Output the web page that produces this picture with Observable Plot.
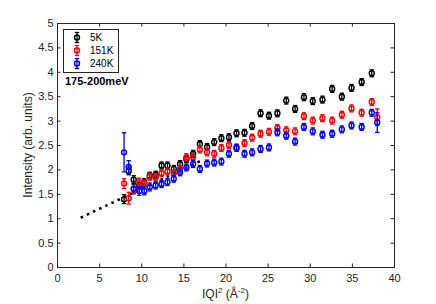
<!DOCTYPE html>
<html><head><meta charset="utf-8">
<script src="https://cdn.jsdelivr.net/npm/d3@7"></script>
<script src="https://cdn.jsdelivr.net/npm/@observablehq/plot@0.6"></script>
<style>
body{margin:0;background:#fff;}
#wrap{position:relative;width:436px;height:304px;font-family:"Liberation Sans",Arial,Helvetica,sans-serif;color:#262626;}
.ov{position:absolute;white-space:nowrap;}
#xlab{left:0;width:451px;text-align:center;top:287px;font-size:12px;line-height:14px;}
#xlab sup{font-size:8px;vertical-align:5px;line-height:0;}
#ylab{left:28px;top:145px;font-size:12px;transform:translate(-50%,-50%) rotate(-90deg);}
#tag{left:65px;top:75px;font-size:11px;font-weight:bold;color:#000;}
#legend{left:63px;top:29px;width:54px;height:42px;border:1px solid #262626;background:#fff;}
#legend .row{position:absolute;left:26px;font-size:10px;line-height:12px;color:#000;}
#legend svg{position:absolute;left:0;top:0;}
</style></head><body><div id="wrap"></div>
<script>
// ---- data ----
const seriesNames = ["5K", "151K", "240K"];
const seriesColors = ["#000000", "#ff0000", "#0000ff"];
const q2 = [7.9, 8.45, 9.05, 9.7, 10.3, 10.95, 11.65, 12.35, 13.05, 13.8, 14.55, 15.3, 16.1, 16.9, 17.75, 18.6, 19.45, 20.35, 21.25, 22.2, 23.1, 24.1, 25.1, 26.1, 27.15, 28.2, 29.25, 30.3, 31.45, 32.6, 33.75, 34.9, 36.1, 37.3, 37.95];
const int5K   = [1.40, 1.98, 1.80, 1.68, 1.75, 1.88, 1.90, 2.09, 2.09, 2.02, 2.12, 2.22, 2.33, 2.53, 2.47, 2.57, 2.65, 2.67, 2.75, 2.76, 2.90, 3.16, 3.11, 3.16, 3.42, 3.25, 3.49, 3.41, 3.44, 3.66, 3.50, 3.68, 3.80, 3.98, null];
const err5K   = [0.09, 0.08, 0.08, 0.07, 0.07, 0.07, 0.07, 0.07, 0.07, 0.07, 0.07, 0.07, 0.07, 0.07, 0.07, 0.07, 0.07, 0.07, 0.07, 0.07, 0.07, 0.07, 0.07, 0.07, 0.07, 0.07, 0.07, 0.07, 0.07, 0.07, 0.07, 0.07, 0.07, 0.07, null];
const int151K = [1.72, 1.42, 1.62, 1.75, 1.72, 1.86, 1.84, 1.93, 1.97, 1.93, 2.02, 2.26, 2.26, 2.42, 2.36, 2.33, 2.45, 2.51, 2.46, 2.55, 2.66, 2.74, 2.78, 2.86, 2.81, 2.79, 3.10, 3.01, 3.06, 3.01, 3.13, 3.26, 3.17, 3.39, 3.08];
const err151K = [0.10, 0.12, 0.08, 0.08, 0.07, 0.07, 0.07, 0.07, 0.07, 0.07, 0.07, 0.07, 0.07, 0.07, 0.07, 0.07, 0.07, 0.07, 0.07, 0.07, 0.07, 0.07, 0.07, 0.07, 0.07, 0.07, 0.07, 0.07, 0.07, 0.07, 0.07, 0.07, 0.07, 0.07, 0.17];
const int240K = [2.36, 2.06, 1.61, 1.57, 1.57, 1.65, 1.68, 1.71, 1.75, 1.82, 1.95, 2.05, 2.12, 2.02, 2.13, 2.15, 2.17, 2.33, 2.45, 2.33, 2.36, 2.43, 2.46, 2.77, 2.70, 2.58, 2.88, 2.79, 2.72, 2.74, 2.83, 2.91, 2.88, 3.17, 2.97];
const err240K = [0.40, 0.13, 0.10, 0.09, 0.08, 0.08, 0.07, 0.07, 0.07, 0.07, 0.07, 0.07, 0.07, 0.07, 0.07, 0.07, 0.07, 0.07, 0.07, 0.07, 0.07, 0.07, 0.07, 0.07, 0.07, 0.07, 0.07, 0.07, 0.07, 0.07, 0.07, 0.07, 0.07, 0.07, 0.20];
const guideX = [2.75, 17.3];
const guideY = [1.02, 2.21];
const xTicks = [0, 5, 10, 15, 20, 25, 30, 35, 40];
const yTicks = [0, 0.5, 1, 1.5, 2, 2.5, 3, 3.5, 4, 4.5, 5];
const tagText = "175-200meV";

// ---- build ----
const values = [int5K, int151K, int240K];
const errors = [err5K, err151K, err240K];
const rows = [];
seriesNames.forEach((s, k) => q2.forEach((x, i) => {
  if (values[k][i] != null) rows.push({series: s, q2: x, I: values[k][i], e: errors[k][i]});
}));
const guide = guideX.map((x, i) => ({x, y: guideY[i]}));

const W = 436, H = 304, mL = 57, mR = 42, mT = 23, mB = 37;
const innerW = W - mL - mR, innerH = H - mT - mB, tk = 3.5;
const cap = {draw(ctx, size) { const w = Math.sqrt(size / Math.PI); ctx.moveTo(-w, 0); ctx.lineTo(w, 0); }};

const marks = [
  Plot.line(guide, {x: "x", y: "y", stroke: "#000", strokeWidth: 2.6, strokeDasharray: "2.6,4.2", strokeLinecap: "butt"})
];
seriesNames.forEach(s => {
  const d = rows.filter(r => r.series === s);
  marks.push(
    Plot.ruleX(d, {x: "q2", y1: r => r.I - r.e, y2: r => r.I + r.e, stroke: "series", strokeWidth: 1.3}),
    Plot.dot(d, {x: "q2", y: r => r.I - r.e, symbol: cap, r: 2.2, stroke: "series", fill: "none", strokeWidth: 1.3}),
    Plot.dot(d, {x: "q2", y: r => r.I + r.e, symbol: cap, r: 2.2, stroke: "series", fill: "none", strokeWidth: 1.3}),
    Plot.dot(d, {x: "q2", y: "I", r: 2.5, stroke: "series", fill: "none", strokeWidth: 1.4})
  );
});
marks.push(
  Plot.tickX(xTicks, {x: d => d, insetTop: innerH - tk, stroke: "#262626"}),
  Plot.tickX(xTicks, {x: d => d, insetBottom: innerH - tk, stroke: "#262626"}),
  Plot.tickY(yTicks, {y: d => d, insetRight: innerW - tk, stroke: "#262626"}),
  Plot.tickY(yTicks, {y: d => d, insetLeft: innerW - tk, stroke: "#262626"}),
  Plot.axisX({ticks: xTicks, tickSize: 0, tickPadding: 7, tickFormat: d => String(d), label: null, fontSize: 11}),
  Plot.axisY({ticks: yTicks, tickSize: 0, tickPadding: 4, tickFormat: d => String(d), label: null, fontSize: 11}),
  Plot.frame({stroke: "#262626", strokeWidth: 1})
);

const chart = Plot.plot({
  width: W, height: H,
  marginLeft: mL, marginRight: mR, marginTop: mT, marginBottom: mB,
  x: {domain: [0, 40]},
  y: {domain: [0, 5]},
  color: {domain: seriesNames, range: seriesColors},
  style: {fontFamily: '"Liberation Sans", Arial, Helvetica, sans-serif', fontSize: "11px", color: "#262626", background: "#fff"},
  marks
});
const wrap = document.getElementById("wrap");
wrap.appendChild(chart);

function ov(id, html) { const d = document.createElement("div"); d.className = "ov"; d.id = id; d.innerHTML = html; wrap.appendChild(d); return d; }
ov("xlab", "IQI<sup>2</sup> (Å<sup>-2</sup>)");
ov("ylab", "Intensity (arb. units)");
ov("tag", tagText);
const lg = ov("legend", "");
const rowY = [7.5, 20.5, 33.5];
let svg = '<svg width="54" height="42">';
seriesNames.forEach((s, k) => {
  const c = seriesColors[k], y = rowY[k], x = 13;
  svg += `<line x1="${x}" x2="${x}" y1="${y-5}" y2="${y+5}" stroke="${c}" stroke-width="1.3"/>`;
  svg += `<line x1="${x-2.2}" x2="${x+2.2}" y1="${y-5}" y2="${y-5}" stroke="${c}" stroke-width="1.3"/>`;
  svg += `<line x1="${x-2.2}" x2="${x+2.2}" y1="${y+5}" y2="${y+5}" stroke="${c}" stroke-width="1.3"/>`;
  svg += `<circle cx="${x}" cy="${y}" r="2.5" fill="none" stroke="${c}" stroke-width="1.4"/>`;
});
svg += '</svg>';
lg.innerHTML = svg + seriesNames.map((s, k) => `<div class="row" style="top:${rowY[k]-6}px">${s}</div>`).join("");
</script>
</body></html>
